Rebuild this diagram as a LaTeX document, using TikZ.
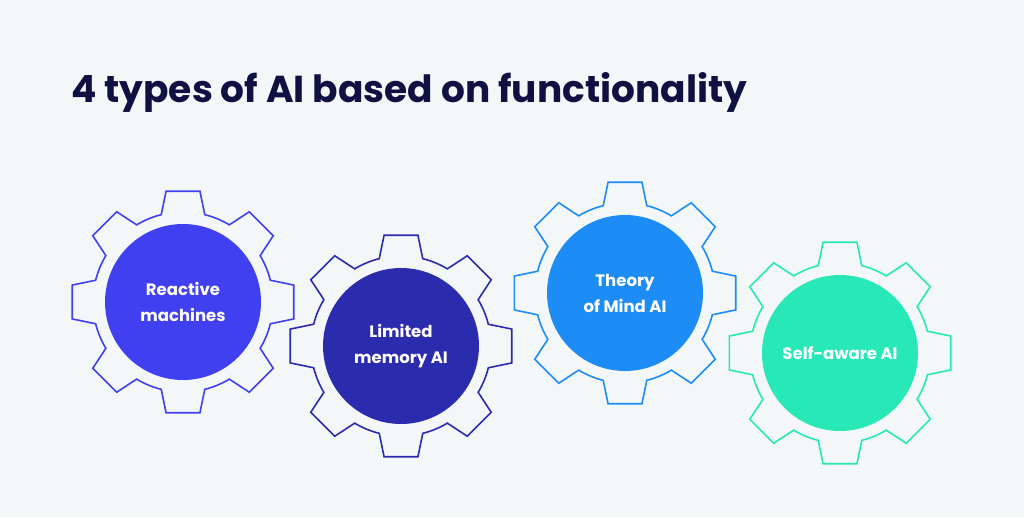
\documentclass[tikz,border=0pt]{standalone}
\usepackage{fontspec}
\setmainfont{Poppins}
\usetikzlibrary{positioning}
\definecolor{bgcol}{HTML}{F3F7F8}
\definecolor{titlecol}{HTML}{0F1142}
\definecolor{gearA}{HTML}{4040F0}
\definecolor{gearB}{HTML}{2B2BAE}
\definecolor{gearC}{HTML}{1E8CF5}
\definecolor{gearD}{HTML}{28E8B8}
\tikzset{
  gear/.style={line width=1.6pt, line join=miter},
  hub/.style={circle, minimum size=156pt, inner sep=0pt, text=white,
              font=\fontsize{16.5}{26}\selectfont\bfseries, align=center}
}
\begin{document}
\begin{tikzpicture}[x=1pt,y=1pt]
\useasboundingbox[fill=bgcol] (0,0) rectangle (1024,517);
%title
\node[anchor=base west, text=titlecol, font=\fontsize{37.5}{44}\selectfont\bfseries, inner sep=0pt]
  (title) at (71,414) {4 types of AI based on functionality};
%gears
\foreach \cx/\cy/\col/\nm in {183/215/gearA/ga, 401/171/gearB/gb, 625/224/gearC/gc, 840/164/gearD/gd}{
  \begin{scope}[shift={(\cx,\cy)}]
  \draw[gear, draw=\col] (-14:90)
    \foreach \k in {0,...,7}{
      -- ({45*\k-8.7}:112) -- ({45*\k+8.7}:112) -- ({45*\k+14}:90)
      arc[start angle={45*\k+14}, end angle={45*\k+31}, radius=90]
    } -- cycle;
  \node[hub, fill=\col] (\nm) at (0,0) {};
  \end{scope}
}
\node[hub] at (ga) {Reactive\\machines};
\node[hub] at (gb) {Limited\\memory AI};
\node[hub] at (gc) {Theory\\of Mind AI};
\node[hub] at (gd) {Self-aware AI};
\end{tikzpicture}
\end{document}
